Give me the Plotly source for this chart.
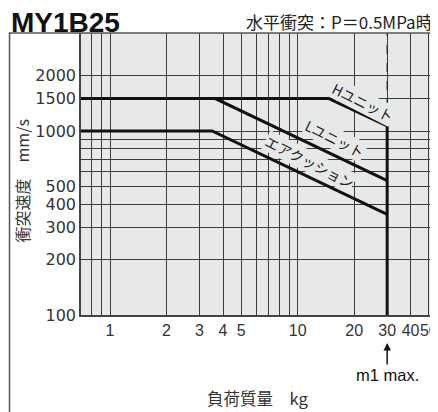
import math
import plotly.graph_objects as go

# ---- data ----
mass_h = [0.7, 14.7, 30]
speed_h = [1500, 1500, 1065]
mass_l = [0.7, 3.64, 30]
speed_l = [1500, 1500, 537]
mass_air = [0.7, 3.5, 30]
speed_air = [1000, 1000, 352]
m1_max = 30
speed_top = 3410

x_ticks = [1, 2, 3, 4, 5, 10, 20, 30, 40, 50]
x_minor = [0.8, 0.9, 6, 7, 8, 9]
y_ticks = [100, 200, 300, 400, 500, 1000, 1500, 2000]
y_minor = [600, 700, 800, 900]

line_names = ["Hユニット", "Lユニット", "エアクッション"]
label_mass = [22.2, 15.9, 11.6]
label_speed = [1440, 905, 678]

BG = "#e7e8e8"
GRID = "#3c3c3c"
YTICKFONT = dict(family="DejaVu Sans", size=16, color="#333333")
XTICKFONT = dict(family="Liberation Sans", size=16, color="#333333")
JP = "Noto Sans CJK JP"

fig = go.Figure()
for mx, sp in [(mass_h, speed_h), (mass_l, speed_l), (mass_air, speed_air)]:
    fig.add_trace(go.Scatter(x=mx, y=sp, mode="lines",
                             line=dict(color="#111111", width=3), hoverinfo="skip"))
fig.add_trace(go.Scatter(x=[m1_max, m1_max], y=[100, speed_h[-1]], mode="lines",
                         line=dict(color="#111111", width=3), hoverinfo="skip"))
fig.add_trace(go.Scatter(x=[m1_max, m1_max], y=[speed_h[-1], speed_top], mode="lines",
                         line=dict(color="#222222", width=1.2, dash="dash"), hoverinfo="skip"))

# page has an 8px body margin: figure is shifted by (8, 8)
fig.update_layout(
    width=430, height=404,
    margin=dict(l=73, r=0, t=25, b=97),
    paper_bgcolor="white", plot_bgcolor=BG,
    showlegend=False,
    xaxis=dict(type="log", range=[math.log10(0.7), math.log10(53.3)],
               tickvals=x_ticks, ticktext=[str(v) for v in x_ticks],
               showgrid=True, gridcolor=GRID, gridwidth=1.2,
               minor=dict(tickvals=x_minor, showgrid=True, gridcolor=GRID, gridwidth=1.2, ticks=""),
               ticks="", tickfont=XTICKFONT, ticklabeloverflow="allow", tickangle=0,
               showline=True, linecolor="#444444", linewidth=1.5,
               zeroline=False),
    yaxis=dict(type="log", range=[2, math.log10(speed_top)],
               tickvals=y_ticks, ticktext=[str(v) for v in y_ticks],
               showgrid=True, gridcolor=GRID, gridwidth=1.2,
               minor=dict(tickvals=y_minor, showgrid=True, gridcolor=GRID, gridwidth=1.2, ticks=""),
               ticks="", tickfont=YTICKFONT, ticklabeloverflow="allow",
               showline=True, linecolor="#444444", linewidth=1.5,
               zeroline=False),
)

# outer frame (left and top)
fig.add_shape(type="line", xref="paper", yref="paper", x0=-0.2025, x1=-0.2025, y0=1, y1=-0.35,
              line=dict(color="#555555", width=1.5))
fig.add_shape(type="line", xref="paper", yref="paper", x0=-0.2045, x1=1.0, y0=1, y1=1,
              line=dict(color="#555555", width=1.5))

ann = []
ann.append(dict(text="<b>MY1B25</b>", xref="paper", yref="paper", x=-0.203, y=1.0, xanchor="left",
                yanchor="bottom", yshift=-7, showarrow=False,
                font=dict(family="Liberation Sans", size=28, color="#111111")))
ann.append(dict(text="水平衝突：P＝0.5MPa時", xref="paper", yref="paper", x=1.0, y=1.0, xanchor="right",
                yanchor="bottom", yshift=-3, xshift=1, showarrow=False,
                font=dict(family=JP, size=17, color="#222222")))
ann.append(dict(text="衝突速度　mm/s", xref="paper", yref="paper", x=-0.166, y=0.475, textangle=-90,
                xanchor="center", yanchor="middle",
                showarrow=False, font=dict(family=JP, size=16, color="#333333")))
ann.append(dict(text="負荷質量　kg", xref="paper", yref="paper", x=0.5, y=-0.293,
                xanchor="center", yanchor="middle",
                showarrow=False, font=dict(family=JP, size=16.5, color="#333333")))
ann.append(dict(text="m1 max.", xref="x", yref="paper", x=math.log10(m1_max), y=-0.0993,
                ax=0, ay=32, showarrow=True, arrowhead=2, arrowsize=1, arrowwidth=1.5,
                arrowcolor="#111111", standoff=0,
                font=dict(family="Liberation Sans", size=16.5, color="#111111")))
# line labels
for name, lx, ly in zip(line_names, label_mass, label_speed):
    ann.append(dict(text=name, xref="x", yref="y", x=math.log10(lx), y=math.log10(ly),
                    textangle=27, showarrow=False, bgcolor=BG, borderpad=0,
                    font=dict(family=JP, size=14, color="#222222")))
fig.update_layout(annotations=ann)

fig.write_html("out.html")
